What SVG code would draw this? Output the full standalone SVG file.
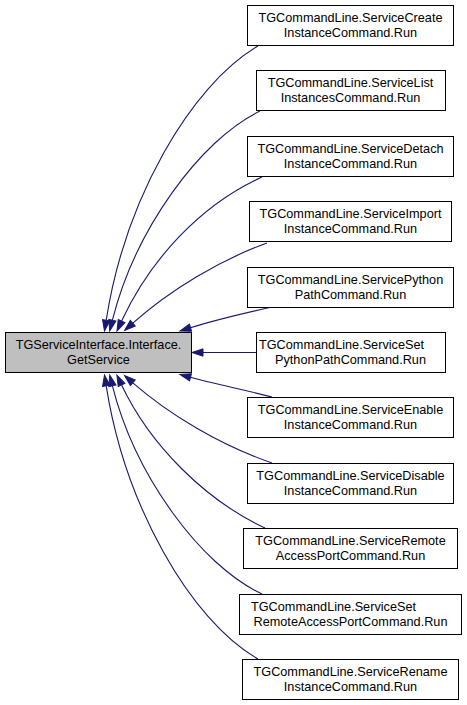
<svg xmlns="http://www.w3.org/2000/svg" width="467" height="705" viewBox="0 0 467 705">
<defs>
<style>
.box{fill:#ffffff;stroke:#000000;stroke-width:1}
.main{fill:#bfbfbf;stroke:#000000;stroke-width:1}
text{font-family:"Liberation Sans",Arial,sans-serif;font-size:12.7px;fill:#000000;text-anchor:middle}
.edge{fill:none;stroke:#191970;stroke-width:1.1;marker-end:url(#arr)}
</style>
<marker id="arr" markerUnits="userSpaceOnUse" markerWidth="12" markerHeight="8" refX="0" refY="4" orient="auto" viewBox="0 0 12 8" overflow="visible">
<polygon points="0,0.3 11,4 0,7.7" fill="#191970" stroke="#191970" stroke-width="1"/>
</marker>
</defs>
<rect width="467" height="705" fill="#ffffff"/>
<g id="edges">
<path class="edge" d="M258,46 C190,86 125,200 106.2,320.2"/>
<path class="edge" d="M260,111 C200,140 135,230 112.4,320.2"/>
<path class="edge" d="M262,177 C200,205 150,260 121.6,321"/>
<path class="edge" d="M267,243 C220,260 170,290 132.8,323.2"/>
<path class="edge" d="M272,307 C245,313 215,320 190.5,327.7"/>
<path class="edge" d="M256,352.5 L203,352.5"/>
<path class="edge" d="M272,397 C245,390 215,384 190.5,377.3"/>
<path class="edge" d="M272,463 C220,445 170,415 132.8,382.8"/>
<path class="edge" d="M265,528 C205,500 150,445 121.6,385"/>
<path class="edge" d="M262,594 C200,565 135,475 112.4,385.8"/>
<path class="edge" d="M258,659 C190,620 125,505 106.2,385.8"/>
</g>
<g id="main">
<rect class="main" x="5.5" y="332.5" width="186" height="40"/>
<text x="98.5" y="348.5">TGServiceInterface.Interface.</text>
<text x="98.5" y="363.5">GetService</text>
</g>
<g id="n1">
<rect class="box" x="247.5" y="5.5" width="206" height="40"/>
<text x="350.5" y="22">TGCommandLine.ServiceCreate</text>
<text x="350.5" y="37">InstanceCommand.Run</text>
</g>
<g id="n2">
<rect class="box" x="256.5" y="70.5" width="189" height="40"/>
<text x="350.5" y="87">TGCommandLine.ServiceList</text>
<text x="350.5" y="102">InstancesCommand.Run</text>
</g>
<g id="n3">
<rect class="box" x="247.5" y="136.5" width="206" height="40"/>
<text x="350.5" y="153">TGCommandLine.ServiceDetach</text>
<text x="350.5" y="168">InstanceCommand.Run</text>
</g>
<g id="n4">
<rect class="box" x="249.5" y="201.5" width="202" height="40"/>
<text x="350.5" y="218">TGCommandLine.ServiceImport</text>
<text x="350.5" y="233">InstanceCommand.Run</text>
</g>
<g id="n5">
<rect class="box" x="247.5" y="267.5" width="206" height="40"/>
<text x="350.5" y="284">TGCommandLine.ServicePython</text>
<text x="350.5" y="299">PathCommand.Run</text>
</g>
<g id="n6">
<rect class="box" x="256.5" y="332.5" width="189" height="40"/>
<text x="259" y="349" style="text-anchor:start">TGCommandLine.ServiceSet</text>
<text x="350.5" y="364">PythonPathCommand.Run</text>
</g>
<g id="n7">
<rect class="box" x="247.5" y="397.5" width="206" height="40"/>
<text x="350.5" y="414">TGCommandLine.ServiceEnable</text>
<text x="350.5" y="429">InstanceCommand.Run</text>
</g>
<g id="n8">
<rect class="box" x="247.5" y="463.5" width="206" height="40"/>
<text x="350.5" y="480">TGCommandLine.ServiceDisable</text>
<text x="350.5" y="495">InstanceCommand.Run</text>
</g>
<g id="n9">
<rect class="box" x="243.5" y="528.5" width="214" height="40"/>
<text x="350.5" y="545">TGCommandLine.ServiceRemote</text>
<text x="350.5" y="560">AccessPortCommand.Run</text>
</g>
<g id="n10">
<rect class="box" x="239.5" y="594.5" width="222" height="40"/>
<text x="251" y="611" style="text-anchor:start">TGCommandLine.ServiceSet</text>
<text x="350.5" y="626">RemoteAccessPortCommand.Run</text>
</g>
<g id="n11">
<rect class="box" x="242.5" y="659.5" width="216" height="40"/>
<text x="350.5" y="676">TGCommandLine.ServiceRename</text>
<text x="350.5" y="691">InstanceCommand.Run</text>
</g>
</svg>
